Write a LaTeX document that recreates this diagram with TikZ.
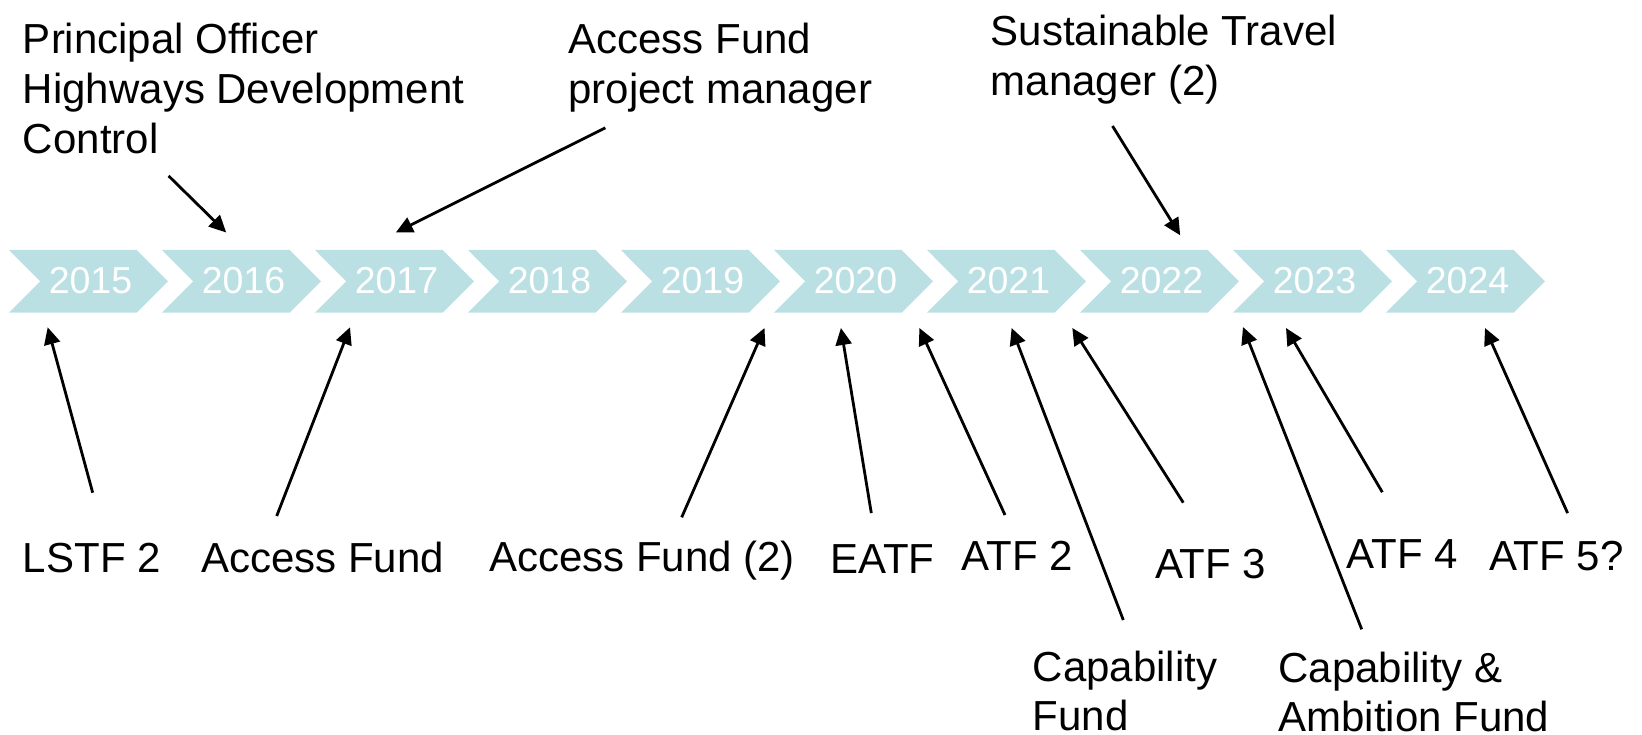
\documentclass[tikz,border=0pt]{standalone}
\usepackage{fontspec}
\setmainfont{Liberation Sans}
\usetikzlibrary{arrows.meta}
\definecolor{chev}{RGB}{187,224,227}
\tikzset{
  lbl/.style={anchor=base west, inner sep=0pt, outer sep=0pt, align=left,
    font=\fontsize{42}{50}\selectfont, text=black},
  lblb/.style={lbl, font=\fontsize{42}{49}\selectfont},
  yr/.style={inner sep=0pt, text=white, font=\fontsize{37.5}{40}\selectfont},
  con/.style={line width=2.8pt, draw=black, -{Triangle[length=17pt,width=16pt]}}
}
\begin{document}
\begin{tikzpicture}[x=1pt,y=-1pt]
\useasboundingbox (0,0) rectangle (1642,735);
% chevrons
\foreach \k/\yy in {0/2015,1/2016,2/2017,3/2018,4/2019,5/2020,6/2021,7/2022,8/2023,9/2024}{
  \pgfmathsetmacro{\L}{9+153*\k}
  \fill[chev] (\L,250) -- (\L+127.7,250) -- (\L+159,281.35) -- (\L+127.7,312.7)
     -- (\L,312.7) -- (\L+31.3,281.35) -- cycle;
  \node[yr] (y\yy) at (\L+81.5,281) {\yy};
}
% top labels (anchor = baseline of last line)
\node[lbl] (po) at (23,154) {Principal Officer\\Highways Development\\Control};
\node[lbl] (afpm) at (568.6,104) {Access Fund\\project manager};
\node[lbl] (stm) at (990.7,95.5) {Sustainable Travel\\manager (2)};
% bottom labels
\node[lbl] (lstf) at (23,572) {LSTF 2};
\node[lbl] (af) at (201,572) {Access Fund};
\node[lbl] (af2) at (489,571) {Access Fund (2)};
\node[lbl] (eatf) at (830.4,573) {EATF};
\node[lbl] (atf2) at (961.5,570) {ATF 2};
\node[lbl] (atf3) at (1155,578.5) {ATF 3};
\node[lbl] (atf4) at (1346.5,568.5) {ATF 4};
\node[lbl] (atf5) at (1489,570) {ATF 5?};
\node[lblb] (cf) at (1032.7,730.5) {Capability\\Fund};
\node[lblb] (caf) at (1278.4,731.5) {Capability \&\\Ambition Fund};
% connector ends
\coordinate (s1) at (168.6,175.9);  \coordinate (e1) at (226.2,232.5);
\coordinate (s2) at (605.3,127.8);  \coordinate (e2) at (395.8,232.5);
\coordinate (s3) at (1112.5,126);   \coordinate (e3) at (1180.2,235.3);
\coordinate (s4) at (92.7,492.7);   \coordinate (e4) at (47.7,327.3);
\coordinate (s5) at (276.7,516);    \coordinate (e5) at (350,327.3);
\coordinate (s6) at (681.7,517.3);  \coordinate (e6) at (764.5,328);
\coordinate (s7) at (871.3,513.1);  \coordinate (e7) at (840.9,328);
\coordinate (s8) at (1005,515);     \coordinate (e8) at (919.4,328);
\coordinate (s9) at (1123.3,620);   \coordinate (e9) at (1011.6,328);
\coordinate (s10) at (1183.3,502.7);\coordinate (e10) at (1072.3,328);
\coordinate (s11) at (1361.7,629.3);\coordinate (e11) at (1243,327);
\coordinate (s12) at (1382.3,492.2);\coordinate (e12) at (1286,328);
\coordinate (s13) at (1567.6,513.1);\coordinate (e13) at (1485,328);
\foreach \i in {1,...,13}{ \draw[con] (s\i) -- (e\i); }
\end{tikzpicture}
\end{document}
